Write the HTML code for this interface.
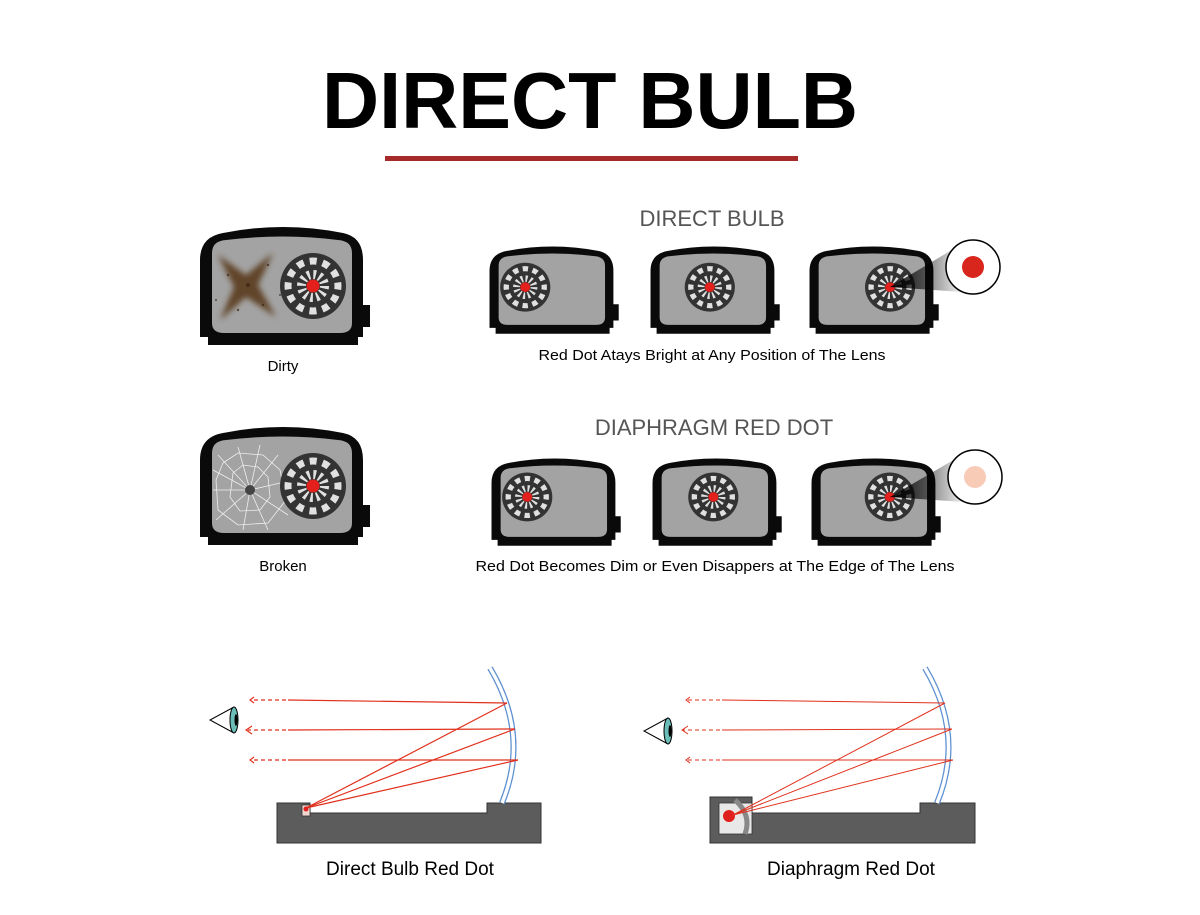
<!DOCTYPE html>
<html><head><meta charset="utf-8"><style>
html,body{margin:0;padding:0;background:#fff}
svg{display:block}
text{font-family:"Liberation Sans",Arial,sans-serif}
</style></head><body>
<svg width="1200" height="915" viewBox="0 0 1200 915" xmlns="http://www.w3.org/2000/svg">
<defs>
  <g id="board">
    <circle r="33" fill="#333"/>
    <circle r="25" fill="none" stroke="#e0e0e0" stroke-width="7" stroke-dasharray="7 6.09" transform="rotate(-8)"/>
    <circle r="11.5" fill="none" stroke="#e0e0e0" stroke-width="9" stroke-dasharray="2.6 3.42"/>
    <circle r="6.5" fill="#e3201b"/>
  </g>
  <g id="body">
    <path d="M2,112 L2,35 Q2,12 25,8 Q85,-4 145,8 Q165,12 165,35 L165,80 L172,80 L172,102 L165,102 L165,112 L160,112 L160,120 L10,120 L10,112 Z" fill="#0a0a0a"/>
    <path d="M14,98 L14,28 Q14,16 28,15 Q85,8 140,15 Q154,16 154,28 L154,98 Q154,108 142,108 L26,108 Q14,108 14,98 Z" fill="#a3a3a3"/>
  </g>
  <filter id="blur"><feGaussianBlur stdDeviation="3"/></filter>
  <linearGradient id="cone" x1="0" x2="1" y1="0" y2="0">
    <stop offset="0" stop-color="#000" stop-opacity="0.95"/>
    <stop offset="1" stop-color="#000" stop-opacity="0.05"/>
  </linearGradient>
</defs>

<text x="590" y="128" font-size="80" font-weight="bold" text-anchor="middle" textLength="536" lengthAdjust="spacingAndGlyphs" fill="#000">DIRECT BULB</text>
<rect x="385" y="156" width="413" height="5" fill="#a52a2a"/>

<!-- Dirty -->
<g transform="translate(198,225)">
  <use href="#body"/>
  <g filter="url(#blur)" fill="#5a3a1e" opacity="0.9">
    <path d="M20,30 L48,50 L75,28 L60,60 L78,92 L48,72 L22,95 L36,62 Z"/>
  </g>
  <g fill="#3a2410" opacity="0.7">
    <circle cx="30" cy="50" r="1.2"/><circle cx="70" cy="40" r="1.2"/><circle cx="40" cy="85" r="1.2"/><circle cx="65" cy="80" r="1.2"/><circle cx="50" cy="60" r="2"/><circle cx="82" cy="70" r="1"/><circle cx="18" cy="75" r="1"/>
  </g>
  <use href="#board" x="115" y="61"/>
</g>
<text x="283" y="371" font-size="15" text-anchor="middle">Dirty</text>

<!-- Broken -->
<g transform="translate(198,425)">
  <use href="#body"/>
  <g stroke="#eee" stroke-width="0.8" fill="none">
    <path d="M52,65 L20,30 M52,65 L40,22 M52,65 L62,20 M52,65 L80,30 M52,65 L95,55 M52,65 L90,90 M52,65 L70,105 M52,65 L45,105 M52,65 L18,95 M52,65 L15,65 M52,65 L15,45"/>
    <path d="M35,48 L45,40 L60,42 L70,52 L72,72 L62,85 L42,86 L32,72 Z"/>
    <path d="M25,38 L40,28 L65,30 L82,45 L88,75 L70,98 L40,100 L20,85 L18,55 Z"/>
  </g>
  <circle cx="52" cy="65" r="5" fill="#444"/>
  <use href="#board" x="115" y="61"/>
</g>
<text x="283" y="571" font-size="15" text-anchor="middle">Broken</text>

<!-- Row 1 -->
<text x="712" y="226" font-size="22" fill="#555" text-anchor="middle">DIRECT BULB</text>
<g transform="translate(488,245) scale(0.76,0.74)"><use href="#body"/><use href="#board" x="49" y="57"/></g>
<g transform="translate(649,245) scale(0.76,0.74)"><use href="#body"/><use href="#board" x="80" y="57"/></g>
<g transform="translate(808,245) scale(0.76,0.74)"><use href="#body"/><use href="#board" x="108" y="57"/></g>
<path d="M890,287 L960,245 L962,292 Z" fill="url(#cone)"/>
<circle cx="973" cy="267" r="27" fill="#fff" stroke="#000" stroke-width="1.5"/>
<circle cx="973" cy="267" r="11" fill="#d9261c"/>
<text x="712" y="360" font-size="15" text-anchor="middle" textLength="347" lengthAdjust="spacingAndGlyphs">Red Dot Atays Bright at Any Position of The Lens</text>

<!-- Row 2 -->
<text x="714" y="435" font-size="22" fill="#555" text-anchor="middle">DIAPHRAGM RED DOT</text>
<g transform="translate(490,457) scale(0.76,0.74)"><use href="#body"/><use href="#board" x="49" y="54"/></g>
<g transform="translate(651,457) scale(0.76,0.74)"><use href="#body"/><use href="#board" x="82" y="54"/></g>
<g transform="translate(810,457) scale(0.76,0.74)"><use href="#body"/><use href="#board" x="105" y="54"/></g>
<path d="M890,497 L962,455 L964,502 Z" fill="url(#cone)"/>
<circle cx="975" cy="477" r="27" fill="#fff" stroke="#000" stroke-width="1.5"/>
<circle cx="975" cy="477" r="11" fill="#f7cbb6"/>
<text x="715" y="571" font-size="15" text-anchor="middle" textLength="479" lengthAdjust="spacingAndGlyphs">Red Dot Becomes Dim or Even Disappers at The Edge of The Lens</text>

<!-- Bottom left diagram -->
<path d="M277,803 L310,803 L310,813 L487,813 L487,803 L541,803 L541,843 L277,843 Z" fill="#5c5c5c" stroke="#333" stroke-width="1"/>
<rect x="302" y="805" width="8" height="11" fill="#f2d6d0" stroke="#333" stroke-width="0.8"/>
<path d="M490,668 Q530,735 502,803" fill="none" stroke="#5b8fd0" stroke-width="6"/>
<path d="M490,668 Q530,735 502,803" fill="none" stroke="#fff" stroke-width="3.5"/>
<g stroke="#e0301c" stroke-width="1.2" fill="none">
  <line x1="306" y1="808" x2="507" y2="703"/><line x1="306" y1="808" x2="515" y2="729"/><line x1="306" y1="808" x2="518" y2="760"/>
  <line x1="507" y1="703" x2="288" y2="700"/><line x1="515" y1="729" x2="288" y2="730"/><line x1="518" y1="760" x2="288" y2="760"/>
  <g stroke-dasharray="4 3"><line x1="286" y1="700" x2="252" y2="700"/><line x1="286" y1="730" x2="248" y2="730"/><line x1="286" y1="760" x2="252" y2="760"/></g>
  <path d="M254,697 L250,700 L254,703"/><path d="M252,726 L246,730 L252,734"/><path d="M254,757 L250,760 L254,763"/>
</g>
<circle cx="306" cy="809" r="2.5" fill="#e0201c"/>
<path d="M234,707 L210,720 L234,733" fill="#fff" stroke="#000" stroke-width="1"/>
<ellipse cx="234" cy="720" rx="4" ry="13" fill="#6bbdb7" stroke="#000" stroke-width="1"/>
<ellipse cx="236" cy="720" rx="1.5" ry="6" fill="#000"/>
<text x="410" y="875" font-size="19" text-anchor="middle">Direct Bulb Red Dot</text>

<!-- Bottom right diagram -->
<path d="M710,797 L752,797 L752,813 L920,813 L920,803 L975,803 L975,843 L710,843 Z" fill="#5c5c5c" stroke="#333" stroke-width="1"/>
<rect x="719" y="803" width="33" height="31" fill="#e8e8e8" stroke="#333" stroke-width="0.8"/>
<path d="M735,800 Q752,815 745,834" fill="none" stroke="#888" stroke-width="5"/>
<circle cx="729" cy="816" r="6" fill="#e0201c"/>
<path d="M925,668 Q965,735 937,803" fill="none" stroke="#5b8fd0" stroke-width="6"/>
<path d="M925,668 Q965,735 937,803" fill="none" stroke="#fff" stroke-width="3.5"/>
<g stroke="#e0301c" stroke-width="1" fill="none">
  <line x1="733" y1="815" x2="945" y2="703"/><line x1="733" y1="815" x2="952" y2="729"/><line x1="733" y1="815" x2="953" y2="760"/>
  <line x1="945" y1="703" x2="722" y2="700"/><line x1="952" y1="729" x2="722" y2="730"/><line x1="953" y1="760" x2="722" y2="760"/>
  <g stroke-dasharray="4 3"><line x1="720" y1="700" x2="688" y2="700"/><line x1="720" y1="730" x2="683" y2="730"/><line x1="720" y1="760" x2="688" y2="760"/></g>
  <path d="M690,697 L686,700 L690,703"/><path d="M688,726 L682,730 L688,734"/><path d="M690,757 L686,760 L690,763"/>
</g>
<path d="M668,718 L644,731 L668,744" fill="#fff" stroke="#000" stroke-width="1"/>
<ellipse cx="668" cy="731" rx="4" ry="13" fill="#6bbdb7" stroke="#000" stroke-width="1"/>
<ellipse cx="670" cy="731" rx="1.5" ry="6" fill="#000"/>
<text x="851" y="875" font-size="19" text-anchor="middle">Diaphragm Red Dot</text>
</svg>
</body></html>
